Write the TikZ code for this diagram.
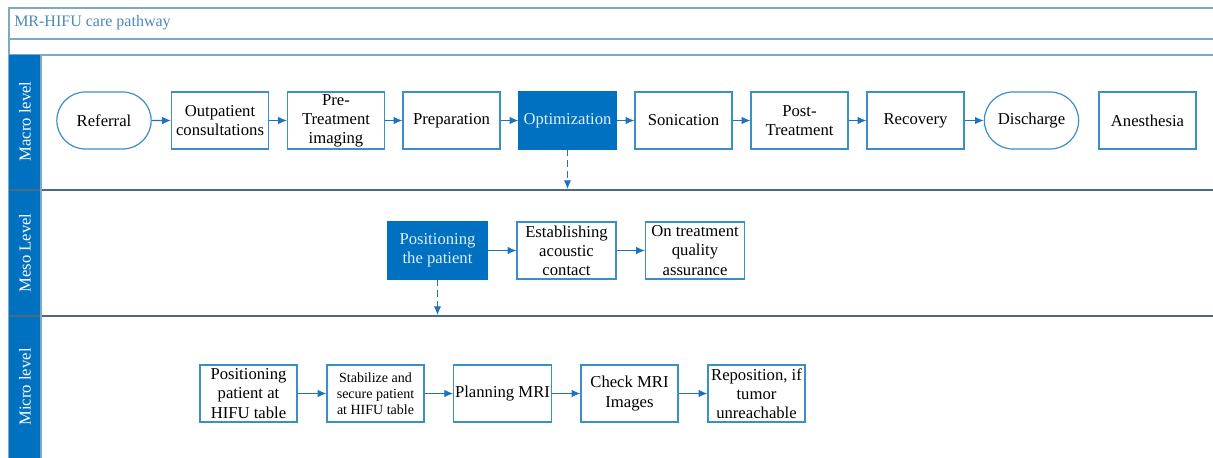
\documentclass[tikz,border=0pt]{standalone}
\usepackage{fontspec}
\setmainfont{Liberation Serif}
\usetikzlibrary{arrows.meta,shapes.misc}
\definecolor{laneblue}{HTML}{0070C0}
\definecolor{boxline}{HTML}{3A8FC6}
\definecolor{flowblue}{HTML}{1A72C0}
\definecolor{titleblue}{HTML}{4A8AB8}
\definecolor{frameline}{HTML}{7FA8C4}
\definecolor{laneline}{HTML}{4A6A80}
\begin{document}
\begin{tikzpicture}[x=0.75pt,y=-0.75pt,
  stepbox/.style={draw=boxline, line width=0.9pt, fill=white, minimum width=72.75pt,
    minimum height=42.75pt, align=center, inner sep=1pt,
    font=\fontsize{12.5}{14.3}\selectfont},
  activebox/.style={stepbox, fill=laneblue, draw=laneblue, text=white!88!laneblue},
  terminal/.style={stepbox, rounded rectangle},
  smallbox/.style={stepbox, font=\fontsize{10.5}{12}\selectfont},
  flow/.style={draw=flowblue, line width=0.8pt, -{Latex[length=6.5pt,width=5.5pt]}},
  drill/.style={flow, dash pattern=on 5pt off 3pt},
  lanelabel/.style={rotate=90, text=white, font=\fontsize{12.5}{14}\selectfont}]
\useasboundingbox (0,0) rectangle (1213,457);
\clip (0,0) rectangle (1213,457);

% pool frame and title row
\fill[white] (0,0) rectangle (1213,457);
\draw[frameline, line width=0.8pt] (1230,8) -- (9,8) -- (9,470);
\draw[frameline, line width=0.8pt] (9,39) -- (1230,39);
\draw[frameline, line width=0.8pt] (9,55) -- (1230,55);
\node[anchor=west, text=titleblue, font=\fontsize{12}{14}\selectfont, inner sep=0pt] (title) at (14,23) {MR-HIFU care pathway};

% lane headers
\fill[laneblue] (9,55) rectangle (41,470);
\node[lanelabel] (lmacro) at (25,121.5) {Macro level};
\node[lanelabel] (lmeso) at (25,253) {Meso Level};
\node[lanelabel] (lmicro) at (25,387) {Micro level};

% lane separators
\draw[laneline, line width=1.4pt] (9,190) -- (1230,190);
\draw[laneline, line width=1.4pt] (9,316) -- (1230,316);
\draw[frameline, line width=0.8pt] (41,55) -- (41,470);

% macro level
\node[terminal] (referral) at (104,120.5) {Referral};
\node[stepbox] (outpatient) at (220,120.5) {Outpatient\\consultations};
\node[stepbox] (pretreat) at (336,120.5) {Pre-\\Treatment\\imaging};
\node[stepbox] (prep) at (451.5,120.5) {Preparation};
\node[activebox] (optim) at (567.5,120.5) {Optimization};
\node[stepbox] (sonic) at (683.5,120.5) {Sonication};
\node[stepbox] (posttreat) at (799.5,120.5) {Post-\\Treatment};
\node[stepbox] (recovery) at (915.5,120.5) {Recovery};
\node[terminal] (discharge) at (1031.5,120.5) {Discharge};
\node[stepbox] (anesth) at (1147.5,120.5) {Anesthesia};

\draw[flow] (referral) -- (outpatient);
\draw[flow] (outpatient) -- (pretreat);
\draw[flow] (pretreat) -- (prep);
\draw[flow] (prep) -- (optim);
\draw[flow] (optim) -- (sonic);
\draw[flow] (sonic) -- (posttreat);
\draw[flow] (posttreat) -- (recovery);
\draw[flow] (recovery) -- (discharge);

\coordinate (mesoentry) at (567.5,189);
\draw[drill] (optim.south) -- (mesoentry);

% meso level
\node[activebox, minimum width=74.25pt] (positioning) at (437.5,250.5) {Positioning\\the patient};
\node[stepbox, minimum width=74.25pt] (acoustic) at (566.5,250.5) {Establishing\\acoustic\\contact};
\node[stepbox, minimum width=74.25pt] (quality) at (695,250.5) {On treatment\\quality\\assurance};

\draw[flow] (positioning) -- (acoustic);
\draw[flow] (acoustic) -- (quality);

\coordinate (microentry) at (437.5,315);
\draw[drill] (positioning.south) -- (microentry);

% micro level
\node[stepbox] (hifutable) at (248.5,393.5) {Positioning\\patient at\\HIFU table};
\node[smallbox] (stabilize) at (375.5,393.5) {Stabilize and\\secure patient\\at HIFU table};
\node[stepbox] (planning) at (502.5,393.5) {Planning MRI};
\node[stepbox] (check) at (629.5,393.5) {Check MRI\\Images};
\node[stepbox] (reposition) at (756.5,393.5) {Reposition, if\\tumor\\unreachable};

\draw[flow] (hifutable) -- (stabilize);
\draw[flow] (stabilize) -- (planning);
\draw[flow] (planning) -- (check);
\draw[flow] (check) -- (reposition);
\end{tikzpicture}
\end{document}
